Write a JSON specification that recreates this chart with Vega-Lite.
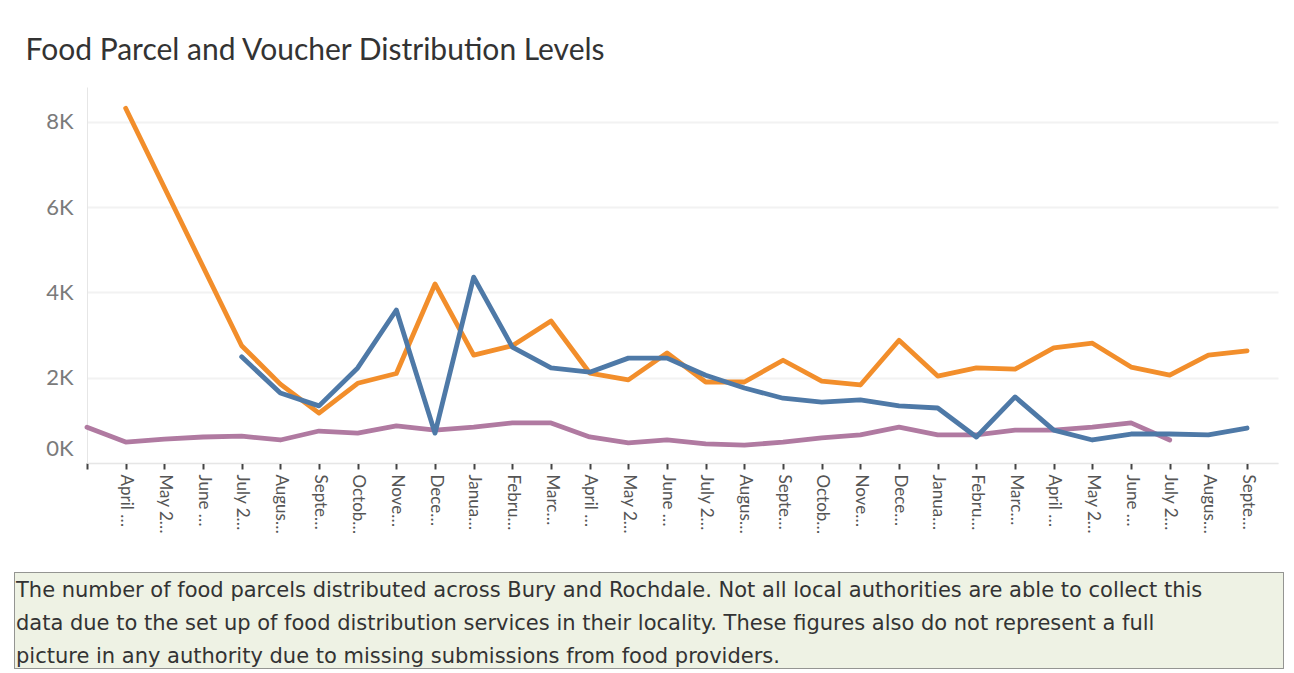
{
  "$schema": "https://vega.github.io/schema/vega-lite/v6.json",
  "background": "white",
  "padding": {"left": 13, "top": 36, "right": 12, "bottom": 5},
  "spacing": 37,
  "config": {"view": {"stroke": null}, "font": "Lato"},
  "title": {
    "text": "Food Parcel and Voucher Distribution Levels",
    "anchor": "start", "dx": 12, "offset": -3,
    "baseline": "alphabetic", "fontSize": 30, "fontWeight": "normal",
    "color": "#333333", "font": "Lato"
  },
  "vconcat": [
    {
      "spacing": 0,
      "hconcat": [
        {"width": 1, "height": 1, "data": {"values": []}, "mark": "point"},
        {
          "width": 1191,
          "height": 376,
          "data": {
            "values": [
              {"month": "April 2020", "series": "Rochdale food parcels", "value": 8320},
              {"month": "July 2020", "series": "Rochdale food parcels", "value": 2750},
              {"month": "August 2020", "series": "Rochdale food parcels", "value": 1850},
              {"month": "September 2020", "series": "Rochdale food parcels", "value": 1170},
              {"month": "October 2020", "series": "Rochdale food parcels", "value": 1870},
              {"month": "November 2020", "series": "Rochdale food parcels", "value": 2100},
              {"month": "December 2020", "series": "Rochdale food parcels", "value": 4200},
              {"month": "January 2021", "series": "Rochdale food parcels", "value": 2530},
              {"month": "February 2021", "series": "Rochdale food parcels", "value": 2750},
              {"month": "March 2021", "series": "Rochdale food parcels", "value": 3330},
              {"month": "April 2021", "series": "Rochdale food parcels", "value": 2110},
              {"month": "May 2021", "series": "Rochdale food parcels", "value": 1950},
              {"month": "June 2021", "series": "Rochdale food parcels", "value": 2580},
              {"month": "July 2021", "series": "Rochdale food parcels", "value": 1900},
              {"month": "August 2021", "series": "Rochdale food parcels", "value": 1900},
              {"month": "September 2021", "series": "Rochdale food parcels", "value": 2410},
              {"month": "October 2021", "series": "Rochdale food parcels", "value": 1920},
              {"month": "November 2021", "series": "Rochdale food parcels", "value": 1830},
              {"month": "December 2021", "series": "Rochdale food parcels", "value": 2880},
              {"month": "January 2022", "series": "Rochdale food parcels", "value": 2040},
              {"month": "February 2022", "series": "Rochdale food parcels", "value": 2230},
              {"month": "March 2022", "series": "Rochdale food parcels", "value": 2200},
              {"month": "April 2022", "series": "Rochdale food parcels", "value": 2700},
              {"month": "May 2022", "series": "Rochdale food parcels", "value": 2810},
              {"month": "June 2022", "series": "Rochdale food parcels", "value": 2250},
              {"month": "July 2022", "series": "Rochdale food parcels", "value": 2060},
              {"month": "August 2022", "series": "Rochdale food parcels", "value": 2530},
              {"month": "September 2022", "series": "Rochdale food parcels", "value": 2630},

              {"month": "Null", "series": "Food vouchers", "value": 840},
              {"month": "April 2020", "series": "Food vouchers", "value": 490},
              {"month": "May 2020", "series": "Food vouchers", "value": 560},
              {"month": "June 2020", "series": "Food vouchers", "value": 610},
              {"month": "July 2020", "series": "Food vouchers", "value": 630},
              {"month": "August 2020", "series": "Food vouchers", "value": 540},
              {"month": "September 2020", "series": "Food vouchers", "value": 750},
              {"month": "October 2020", "series": "Food vouchers", "value": 700},
              {"month": "November 2020", "series": "Food vouchers", "value": 870},
              {"month": "December 2020", "series": "Food vouchers", "value": 770},
              {"month": "January 2021", "series": "Food vouchers", "value": 840},
              {"month": "February 2021", "series": "Food vouchers", "value": 940},
              {"month": "March 2021", "series": "Food vouchers", "value": 940},
              {"month": "April 2021", "series": "Food vouchers", "value": 610},
              {"month": "May 2021", "series": "Food vouchers", "value": 470},
              {"month": "June 2021", "series": "Food vouchers", "value": 540},
              {"month": "July 2021", "series": "Food vouchers", "value": 450},
              {"month": "August 2021", "series": "Food vouchers", "value": 420},
              {"month": "September 2021", "series": "Food vouchers", "value": 490},
              {"month": "October 2021", "series": "Food vouchers", "value": 590},
              {"month": "November 2021", "series": "Food vouchers", "value": 660},
              {"month": "December 2021", "series": "Food vouchers", "value": 840},
              {"month": "January 2022", "series": "Food vouchers", "value": 660},
              {"month": "February 2022", "series": "Food vouchers", "value": 660},
              {"month": "March 2022", "series": "Food vouchers", "value": 770},
              {"month": "April 2022", "series": "Food vouchers", "value": 770},
              {"month": "May 2022", "series": "Food vouchers", "value": 840},
              {"month": "June 2022", "series": "Food vouchers", "value": 940},
              {"month": "July 2022", "series": "Food vouchers", "value": 540},

              {"month": "July 2020", "series": "Bury food parcels", "value": 2490},
              {"month": "August 2020", "series": "Bury food parcels", "value": 1640},
              {"month": "September 2020", "series": "Bury food parcels", "value": 1340},
              {"month": "October 2020", "series": "Bury food parcels", "value": 2230},
              {"month": "November 2020", "series": "Bury food parcels", "value": 3590},
              {"month": "December 2020", "series": "Bury food parcels", "value": 700},
              {"month": "January 2021", "series": "Bury food parcels", "value": 4360},
              {"month": "February 2021", "series": "Bury food parcels", "value": 2720},
              {"month": "March 2021", "series": "Bury food parcels", "value": 2230},
              {"month": "April 2021", "series": "Bury food parcels", "value": 2130},
              {"month": "May 2021", "series": "Bury food parcels", "value": 2460},
              {"month": "June 2021", "series": "Bury food parcels", "value": 2460},
              {"month": "July 2021", "series": "Bury food parcels", "value": 2060},
              {"month": "August 2021", "series": "Bury food parcels", "value": 1760},
              {"month": "September 2021", "series": "Bury food parcels", "value": 1520},
              {"month": "October 2021", "series": "Bury food parcels", "value": 1430},
              {"month": "November 2021", "series": "Bury food parcels", "value": 1480},
              {"month": "December 2021", "series": "Bury food parcels", "value": 1340},
              {"month": "January 2022", "series": "Bury food parcels", "value": 1290},
              {"month": "February 2022", "series": "Bury food parcels", "value": 610},
              {"month": "March 2022", "series": "Bury food parcels", "value": 1550},
              {"month": "April 2022", "series": "Bury food parcels", "value": 770},
              {"month": "May 2022", "series": "Bury food parcels", "value": 540},
              {"month": "June 2022", "series": "Bury food parcels", "value": 680},
              {"month": "July 2022", "series": "Bury food parcels", "value": 680},
              {"month": "August 2022", "series": "Bury food parcels", "value": 660},
              {"month": "September 2022", "series": "Bury food parcels", "value": 820}
            ]
          },
          "mark": {"type": "line", "strokeWidth": 4.8, "strokeJoin": "round", "strokeCap": "round"},
          "encoding": {
            "x": {
              "field": "month", "type": "ordinal",
              "scale": {
                "type": "point", "padding": 0.4, "align": 0,
                "domain": ["Null", "April 2020", "May 2020", "June 2020", "July 2020", "August 2020", "September 2020", "October 2020", "November 2020", "December 2020", "January 2021", "February 2021", "March 2021", "April 2021", "May 2021", "June 2021", "July 2021", "August 2021", "September 2021", "October 2021", "November 2021", "December 2021", "January 2022", "February 2022", "March 2022", "April 2022", "May 2022", "June 2022", "July 2022", "August 2022", "September 2022"]
              },
              "axis": {
                "title": null, "labelAngle": 90, "labelAlign": "left", "labelBaseline": "middle",
                "labelExpr": "datum.value == 'Null' ? '' : datum.label",
                "labelLimit": 60, "labelFontSize": 17, "labelColor": "#555555", "labelFont": "Lato",
                "labelPadding": 5, "labelOverlap": false,
                "ticks": true, "tickSize": 6, "tickColor": "#444444", "tickWidth": 2,
                "domain": true, "domainColor": "#e6e6e6", "domainWidth": 1, "grid": false
              }
            },
            "y": {
              "field": "value", "type": "quantitative",
              "scale": {"domain": [0, 8820], "nice": false, "zero": true},
              "axis": {
                "title": " ", "titleX": -72, "titleY": 0, "titleAngle": 0, "titleAlign": "left", "titleBaseline": "top", "titleFontSize": 10,
                "values": [0, 2000, 4000, 6000, 8000],
                "labelExpr": "format(datum.value / 1000, 'd') + 'K'",
                "labelFontSize": 22, "labelColor": "#7a7a7a", "labelFont": "Lato", "labelPadding": 14,
                "labelFlush": true, "labelFlushOffset": -3,
                "ticks": false, "domain": true, "domainColor": "#e6e6e6", "domainWidth": 1,
                "grid": true, "gridColor": "#f2f2f2", "gridWidth": 2
              }
            },
            "color": {
              "field": "series", "type": "nominal",
              "scale": {
                "domain": ["Rochdale food parcels", "Food vouchers", "Bury food parcels"],
                "range": ["#f28e2b", "#b07aa1", "#4e79a7"]
              },
              "legend": null
            }
          }
        }
      ]
    },
    {
      "width": 1269,
      "height": 96,
      "view": {"fill": "#eef2e4", "stroke": "#333333", "strokeDash": [1, 1], "strokeWidth": 1},
      "title": {
        "text": [
          "The number of food parcels distributed across Bury and Rochdale. Not all local authorities are able to collect this",
          "data due to the set up of food distribution services in their locality. These figures also do not represent a full",
          "picture in any authority due to missing submissions from food providers."
        ],
        "anchor": "start", "frame": "group", "dx": 2, "offset": -95,
        "baseline": "top", "fontSize": 21, "lineHeight": 33, "fontWeight": "normal",
        "color": "#333333", "font": "DejaVu Sans"
      },
      "data": {"values": []},
      "mark": "point"
    }
  ]
}
